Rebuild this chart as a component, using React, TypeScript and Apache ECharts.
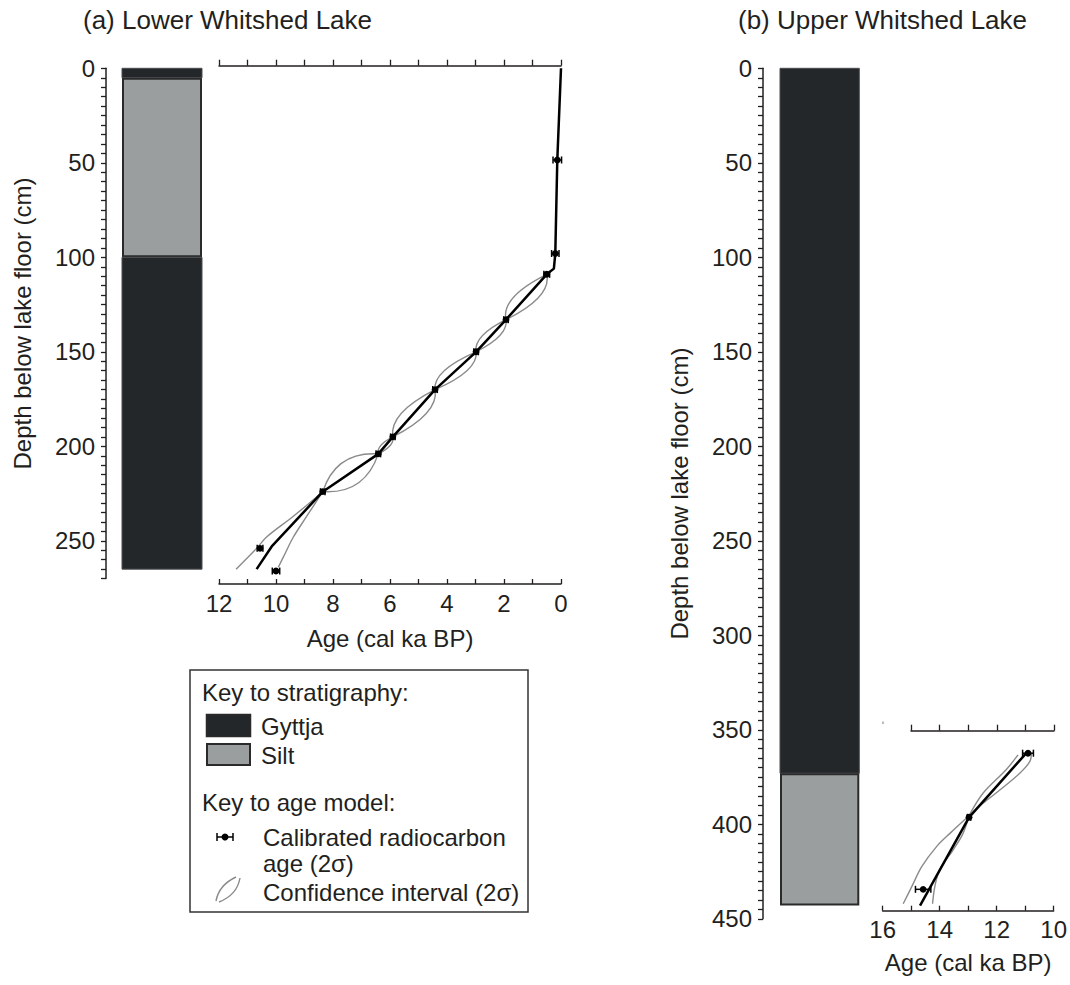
import React, { useEffect, useRef } from "react";
import * as echarts from "echarts";

const FONT = "'Liberation Sans', Arial, Helvetica, sans-serif";
const INK = "#231f20";
const GYTTJA = "#24272a";
const SILT = "#9b9e9e";
const CI_GREY = "#8a8a8a";

// ---------- Panel (a) Lower Whitshed Lake ----------
// stratigraphy layers: [top depth, bottom depth] (cm) and lithology
const layersTopA = [0, 5, 100];
const layersBottomA = [5, 100, 265];
const layersLithA = ["Gyttja", "Silt", "Gyttja"];
// calibrated dates: [age (cal ka BP), depth (cm), 2σ half-width (ka)]
const datesA = [
  [0.13, 48.5, 0.15],
  [0.2, 98, 0.13],
  [0.5, 109, 0.1],
  [1.93, 133, 0.08],
  [2.98, 150, 0.08],
  [4.42, 170, 0.08],
  [5.9, 195, 0.08],
  [6.41, 204, 0.08],
  [8.36, 224, 0.08],
  [10.56, 254, 0.1],
  [10.0, 266, 0.13],
];
// age model: [age, depth]
const modelA = [
  [0.0, 0], [0.13, 48.5], [0.2, 98], [0.25, 106], [0.5, 109], [1.93, 133],
  [2.98, 150], [4.42, 170], [5.9, 195], [6.41, 204], [8.36, 224],
  [10.15, 253], [10.68, 265],
];
// confidence interval: levels where the envelope pinches, and the
// older / younger mid-points of each lens between consecutive pinches
const ciPinchA = [[0.5, 109], [1.93, 133], [2.98, 150], [4.42, 170], [5.9, 195], [6.41, 204], [8.36, 224]];
const ciOlderMidA = [[1.66, 121], [2.76, 141.5], [4.1, 160], [5.6, 182.5], [6.32, 199.5], [7.64, 208.3]];
const ciYoungerMidA = [[0.77, 121], [2.15, 141.5], [3.3, 160], [4.72, 182.5], [5.99, 199.5], [7.14, 219.7]];
// below the last pinch the envelope opens out
const ciOlderTailA = [[8.36, 224], [9.39, 237], [10.33, 248], [10.68, 254], [11.4, 265]];
const ciYoungerTailA = [[8.36, 224], [8.92, 237], [9.39, 248], [9.68, 256.7], [9.92, 264]];

// ---------- Panel (b) Upper Whitshed Lake ----------
const layersTopB = [0, 373];
const layersBottomB = [373, 443];
const layersLithB = ["Gyttja", "Silt"];
const datesB = [
  [10.9, 362.4, 0.19],
  [12.97, 396.3, 0.06],
  [14.58, 434.4, 0.27],
];
const modelB = [[11.0, 363], [12.97, 396.3], [14.69, 443]];
const ciUpperOlderB = [[11.25, 363.3], [11.66, 371], [12.48, 383.6], [12.97, 395.5]];
const ciUpperYoungerB = [[10.78, 362.4], [10.84, 366.9], [11.19, 373], [11.89, 381.9], [12.48, 388.9], [12.97, 395.5]];
const ciLowerOlderB = [[12.97, 395.5], [13.64, 404.8], [14.11, 411.8], [14.63, 422.4], [14.98, 433], [15.28, 442]];
const ciLowerYoungerB = [[12.97, 395.5], [13.18, 404.8], [13.53, 413.6], [14.0, 424], [14.17, 433], [14.25, 442]];

const lithFill: Record<string, string> = { Gyttja: GYTTJA, Silt: SILT };

function lensSegments(pinch: number[][], mids: number[][]): number[][][] {
  return mids.map((m, i) => [pinch[i], m, pinch[i + 1]]);
}

function coreSeries(tops: number[], bottoms: number[], liths: string[], xIdx: number, yIdx: number) {
  return {
    type: "custom",
    xAxisIndex: xIdx,
    yAxisIndex: yIdx,
    silent: true,
    data: tops.map((t, i) => [t, bottoms[i], i]),
    renderItem: (_p: any, api: any) => {
      const top = api.value(0);
      const bottom = api.value(1);
      const lith = liths[api.value(2)];
      const p1 = api.coord([0, top]);
      const p2 = api.coord([1, bottom]);
      const isSilt = lith === "Silt";
      return {
        type: "rect",
        shape: {
          x: p1[0] + (isSilt ? 1 : 0),
          y: p1[1] + (isSilt ? 1 : 0),
          width: p2[0] - p1[0] - (isSilt ? 2 : 0),
          height: p2[1] - p1[1] - (isSilt ? 2 : 0),
        },
        style: {
          fill: lithFill[lith],
          stroke: isSilt ? "#2a2a2a" : "#4a4d50",
          lineWidth: isSilt ? 2 : 1,
        },
      };
    },
  };
}

// grey confidence-interval curves: 3-point segments are drawn as lens arcs
function ciSeries(segments: number[][][], xIdx: number, yIdx: number) {
  return {
    type: "custom",
    xAxisIndex: xIdx,
    yAxisIndex: yIdx,
    silent: true,
    z: 2,
    data: segments.map((s, i) => [s[0][0], s[0][1], i]),
    encode: { x: 0, y: 1 },
    renderItem: (_p: any, api: any) => {
      const seg = segments[api.value(2)];
      const pts = seg.map((p) => api.coord(p));
      const style = { stroke: CI_GREY, lineWidth: 1.4, fill: null };
      if (pts.length === 3) {
        const [a, m, b] = pts;
        return {
          type: "bezierCurve",
          shape: {
            x1: a[0], y1: a[1], x2: b[0], y2: b[1],
            cpx1: 2 * m[0] - (a[0] + b[0]) / 2,
            cpy1: 2 * m[1] - (a[1] + b[1]) / 2,
          },
          style,
        };
      }
      return { type: "polyline", shape: { points: pts, smooth: 0.35 }, style };
    },
  };
}

function errorSeries(dates: number[][], xIdx: number, yIdx: number) {
  return {
    type: "custom",
    xAxisIndex: xIdx,
    yAxisIndex: yIdx,
    silent: true,
    z: 5,
    data: dates,
    encode: { x: 0, y: 1 },
    renderItem: (_p: any, api: any) => {
      const age = api.value(0);
      const depth = api.value(1);
      const err = api.value(2);
      const c = api.coord([age, depth]);
      const a = api.coord([age + err, depth]);
      const b = api.coord([age - err, depth]);
      const st = { stroke: "#000", lineWidth: 1.5 };
      return {
        type: "group",
        children: [
          { type: "line", shape: { x1: a[0], y1: c[1], x2: b[0], y2: c[1] }, style: st },
          { type: "line", shape: { x1: a[0], y1: c[1] - 3.5, x2: a[0], y2: c[1] + 3.5 }, style: st },
          { type: "line", shape: { x1: b[0], y1: c[1] - 3.5, x2: b[0], y2: c[1] + 3.5 }, style: st },
          { type: "circle", shape: { cx: c[0], cy: c[1], r: 3.4 }, style: { fill: "#000" } },
        ],
      };
    },
  };
}

function lineSeries(data: number[][], xIdx: number, yIdx: number) {
  return {
    type: "line",
    xAxisIndex: xIdx,
    yAxisIndex: yIdx,
    data,
    showSymbol: false,
    silent: true,
    z: 3,
    lineStyle: { color: "#000", width: 2.5 },
  };
}

const axisLineStyle = { show: true, onZero: false, lineStyle: { color: INK, width: 1.5 } };
const labelStyle = { color: INK, fontSize: 24, fontFamily: FONT };

function depthAxis(gridIndex: number, max: number, offset: number) {
  return {
    type: "value",
    gridIndex,
    min: 0,
    max,
    interval: 5,
    inverse: true,
    position: "left",
    offset,
    name: "Depth below lake floor (cm)",
    nameLocation: "middle",
    nameGap: 72,
    nameRotate: 90,
    nameTextStyle: { color: INK, fontSize: 24, fontFamily: FONT },
    axisLine: axisLineStyle,
    axisTick: { show: true, length: 5, lineStyle: { color: INK, width: 1.3 } },
    axisLabel: {
      ...labelStyle,
      margin: 11,
      formatter: (v: number) => (v % 50 === 0 ? String(v) : ""),
    },
    splitLine: { show: false },
  };
}

function hiddenAxis(gridIndex: number, min: number, max: number, inverse: boolean) {
  return { type: "value", gridIndex, min, max, inverse, show: false, axisLine: { onZero: false }, splitLine: { show: false } };
}

function ageAxis(gridIndex: number, position: string, min: number, max: number, offset: number, labelled: boolean, nameGap: number) {
  const ax: any = {
    type: "value", gridIndex, position, min, max, interval: 1, inverse: true, offset,
    axisLine: axisLineStyle,
    axisTick: { show: true, inside: position === "bottom", length: position === "bottom" ? 5 : 6, lineStyle: { color: INK, width: 1.3 } },
    axisLabel: labelled
      ? { ...labelStyle, margin: 7, formatter: (v: number) => (v % 2 === 0 ? String(v) : "") }
      : { show: false },
    splitLine: { show: false },
  };
  if (labelled) {
    ax.name = "Age (cal ka BP)";
    ax.nameLocation = "middle";
    ax.nameGap = nameGap;
    ax.nameTextStyle = { color: INK, fontSize: 24, fontFamily: FONT };
  }
  return ax;
}

export default function App() {
  const ref = useRef<HTMLDivElement>(null);
  useEffect(() => {
    if (!ref.current) return;
    const chart = echarts.init(ref.current, null, { renderer: "svg" });
    const txt = (text: string, x: number, y: number) => ({
      type: "text", x, y, z: 11,
      style: { text, fontSize: 24, fontFamily: FONT, fill: INK, verticalAlign: "middle", textVerticalAlign: "middle" },
    });
    const ciSegA = [
      ...lensSegments(ciPinchA, ciOlderMidA),
      ...lensSegments(ciPinchA, ciYoungerMidA),
      ciOlderTailA,
      ciYoungerTailA,
    ];
    const ciSegB = [ciUpperOlderB, ciUpperYoungerB, ciLowerOlderB, ciLowerYoungerB];
    const option: any = {
      animation: false,
      backgroundColor: "#ffffff",
      grid: [
        { left: 122, top: 68.3, width: 80, height: 510.3 },
        { left: 219, top: 68.3, width: 342, height: 510.3 },
        { left: 780, top: 68.3, width: 79.3, height: 850.5 },
        { left: 882.7, top: 730.7, width: 171.3, height: 180 },
        { left: 911, top: 730.7, width: 143, height: 180 },
      ],
      xAxis: [
        hiddenAxis(0, 0, 1, false),
        ageAxis(1, "bottom", 0, 12, 5.4, true, 42),
        ageAxis(1, "top", 0, 12, 2.6, false, 0),
        hiddenAxis(2, 0, 1, false),
        ageAxis(3, "bottom", 10, 16, 0, true, 40),
        ageAxis(4, "top", 10, 15, 0, false, 0),
      ],
      yAxis: [
        depthAxis(0, 270, 16),
        hiddenAxis(1, 0, 270, true),
        depthAxis(2, 450, 17),
        hiddenAxis(3, 350.5, 445.7, true),
        hiddenAxis(4, 0, 1, false),
      ],
      series: [
        coreSeries(layersTopA, layersBottomA, layersLithA, 0, 0),
        ciSeries(ciSegA, 1, 1),
        lineSeries(modelA, 1, 1),
        errorSeries(datesA, 1, 1),
        coreSeries(layersTopB, layersBottomB, layersLithB, 3, 2),
        ciSeries(ciSegB, 4, 3),
        lineSeries(modelB, 4, 3),
        errorSeries(datesB, 4, 3),
      ],
      graphic: [
        { type: "text", left: 83, top: 7, style: { text: "(a) Lower Whitshed Lake", fontSize: 26, fontFamily: FONT, fill: INK } },
        { type: "text", left: 738, top: 7, style: { text: "(b) Upper Whitshed Lake", fontSize: 26, fontFamily: FONT, fill: INK } },
        { type: "line", shape: { x1: 883, y1: 721.5, x2: 883, y2: 724 }, style: { stroke: "#777", lineWidth: 1 } },
        // legend box
        { type: "rect", shape: { x: 190, y: 670, width: 338, height: 242 }, style: { fill: "#fff", stroke: "#333", lineWidth: 1.5 }, z: 10 },
        txt("Key to stratigraphy:", 202, 692),
        { type: "rect", z: 11, shape: { x: 206.5, y: 714.5, width: 44, height: 22 }, style: { fill: GYTTJA, stroke: "#2a2a2a", lineWidth: 1.5 } },
        txt("Gyttja", 261, 726),
        { type: "rect", z: 11, shape: { x: 207, y: 744, width: 43, height: 21 }, style: { fill: SILT, stroke: "#2a2a2a", lineWidth: 2 } },
        txt("Silt", 261, 755),
        txt("Key to age model:", 202, 802),
        { type: "line", z: 11, shape: { x1: 217, y1: 837, x2: 233, y2: 837 }, style: { stroke: "#000", lineWidth: 1.5 } },
        { type: "line", z: 11, shape: { x1: 217, y1: 833, x2: 217, y2: 841 }, style: { stroke: "#000", lineWidth: 1.5 } },
        { type: "line", z: 11, shape: { x1: 233, y1: 833, x2: 233, y2: 841 }, style: { stroke: "#000", lineWidth: 1.5 } },
        { type: "circle", z: 11, shape: { cx: 225, cy: 837, r: 3.5 }, style: { fill: "#000" } },
        txt("Calibrated radiocarbon", 263, 837),
        txt("age (2σ)", 263, 863),
        { type: "bezierCurve", z: 11, shape: { x1: 216, y1: 901, x2: 236, y2: 877, cpx1: 219, cpy1: 885 }, style: { stroke: CI_GREY, lineWidth: 1.4, fill: null } },
        { type: "bezierCurve", z: 11, shape: { x1: 219, y1: 902, x2: 240, y2: 878, cpx1: 237, cpy1: 895 }, style: { stroke: CI_GREY, lineWidth: 1.4, fill: null } },
        txt("Confidence interval (2σ)", 263, 892),
      ],
    };
    chart.setOption(option);
    return () => chart.dispose();
  }, []);
  return (
    <div
      ref={ref}
      style={{ position: "absolute", left: 0, top: 0, width: 1070, height: 985, background: "#fff" }}
    />
  );
}
